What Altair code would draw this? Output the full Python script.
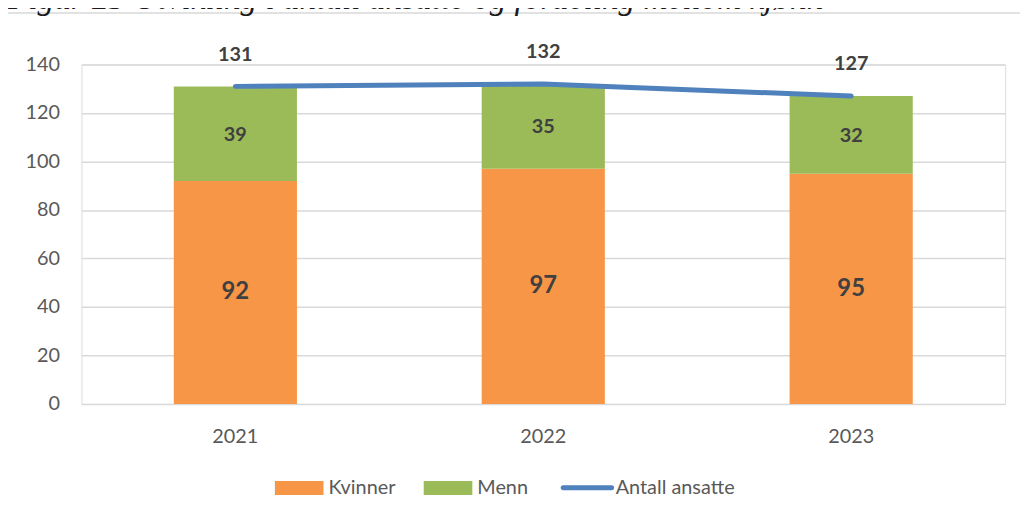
import altair as alt
import pandas as pd

# ---- data ----
years = ["2021", "2022", "2023"]
kvinner = [92, 97, 95]
menn = [39, 35, 32]
totals = [131, 132, 127]
bar_series = ["Kvinner", "Menn"]
bar_colors = ["#f79646", "#9bbb59"]
line_series = ["Antall ansatte"]
line_colors = ["#4f81bd"]
y_ticks = [0, 20, 40, 60, 80, 100, 120, 140]
title_text = "Figur 23 Utvikling i antall ansatte og fordeling mellom kjønn"

rows = []
for i, yr in enumerate(years):
    rows.append({"year": yr, "serie": "Kvinner", "value": kvinner[i], "order": 0,
                 "mid": kvinner[i] / 2})
    rows.append({"year": yr, "serie": "Menn", "value": menn[i], "order": 1,
                 "mid": kvinner[i] + menn[i] / 2})
bars_df = pd.DataFrame(rows)
line_df = pd.DataFrame({"year": years, "serie": "Antall ansatte", "value": totals})

FONT = "Lato"
W, H = 931, 342
LABEL_GRAY = "#595959"
DARK = "#404040"

x_enc = alt.X(
    "year:N",
    sort=years,
    scale=alt.Scale(paddingInner=0.6, paddingOuter=0.3),
    axis=alt.Axis(title=None, labelAngle=0, labelFont=FONT, labelFontSize=20,
                  labelColor=LABEL_GRAY, labelPadding=23, ticks=False,
                  domain=False, grid=False),
)
y_scale = alt.Scale(domain=[0, 140], nice=False, zero=True)
y_axis = alt.Axis(title=None, values=y_ticks, labelFont=FONT, labelFontSize=20,
                  labelColor=LABEL_GRAY, labelPadding=22, ticks=False,
                  domain=False, grid=True, gridColor="#d9d9d9", gridWidth=1.5)

RECT_PATH = "M-1,-0.2857H1V0.2857H-1Z"
LINE_PATH = "M-1,-0.1H1A0.1,0.1,0,0,1,1,0.1H-1A0.1,0.1,0,0,1,-1,-0.1Z"

bars = alt.Chart(bars_df).mark_bar().encode(
    x=x_enc,
    y=alt.Y("value:Q", stack="zero", scale=y_scale, axis=y_axis),
    color=alt.Color(
        "serie:N",
        scale=alt.Scale(domain=bar_series, range=bar_colors),
        legend=alt.Legend(
            title=None, orient="none", legendX=195, legendY=402,
            direction="horizontal", columns=2, padding=0,
            symbolType=RECT_PATH, symbolSize=2401, symbolStrokeWidth=0,
            symbolOpacity=1, labelFont=FONT, labelFontSize=20,
            labelColor=LABEL_GRAY, labelOffset=5, columnPadding=28,
        ),
    ),
    order=alt.Order("order:Q"),
)

seg_k = alt.Chart(bars_df).transform_filter(alt.datum.serie == "Kvinner").mark_text(
    font=FONT, fontSize=24, fontWeight="bold", color=DARK, baseline="middle"
).encode(x=x_enc, y=alt.Y("mid:Q", scale=y_scale, axis=y_axis), text="value:Q")

seg_m = alt.Chart(bars_df).transform_filter(alt.datum.serie == "Menn").mark_text(
    font=FONT, fontSize=20, fontWeight="bold", color=DARK, baseline="middle", dy=1
).encode(x=x_enc, y=alt.Y("mid:Q", scale=y_scale, axis=y_axis), text="value:Q")

line = alt.Chart(line_df).mark_line(strokeWidth=5, strokeCap="round", strokeJoin="round").encode(
    x=x_enc,
    y=alt.Y("value:Q", scale=y_scale, axis=y_axis),
    stroke=alt.Stroke(
        "serie:N",
        scale=alt.Scale(domain=line_series, range=line_colors),
        legend=alt.Legend(
            title=None, orient="none", legendX=485.5, legendY=402,
            direction="horizontal", padding=0,
            symbolType=LINE_PATH, symbolSize=2401, symbolStrokeWidth=0,
            symbolFillColor=line_colors[0], symbolOpacity=1,
            labelFont=FONT, labelFontSize=20, labelColor=LABEL_GRAY,
            labelOffset=4,
        ),
    ),
)

tot = alt.Chart(line_df).mark_text(
    font=FONT, fontSize=20, fontWeight="bold", color=DARK, baseline="middle", dy=-32
).encode(x=x_enc, y=alt.Y("value:Q", scale=y_scale, axis=y_axis), text="value:Q")

title = alt.Chart(alt.Data(values=[{"t": title_text}])).mark_text(
    font="Liberation Serif", fontSize=33.5, fontStyle="italic", color="#1a1a1a",
    align="left", baseline="alphabetic"
).encode(x=alt.value(-74), y=alt.value(-56), text="t:N")

border_left = alt.Chart(alt.Data(values=[{"a": 1}])).mark_rule(
    color="#d9d9d9", strokeWidth=1.5
).encode(x=alt.value(-75.5), y=alt.value(-52), y2=alt.value(H + 130))

border_top = alt.Chart(alt.Data(values=[{"a": 1}])).mark_rule(
    color="#d9d9d9", strokeWidth=1.5
).encode(x=alt.value(-76), x2=alt.value(W + 30), y=alt.value(-52))

chart = alt.layer(
    bars, line, seg_k, seg_m, tot, border_left, border_top, title
).resolve_scale(color="independent", stroke="independent").properties(
    width=W, height=H,
    padding={"left": 74, "top": 55, "right": 15, "bottom": 115},
    autosize=alt.AutoSizeParams(type="none"),
).configure_view(stroke=None).configure(background="white")

chart.save("out.html", embed_options={"renderer": "svg", "actions": False})
